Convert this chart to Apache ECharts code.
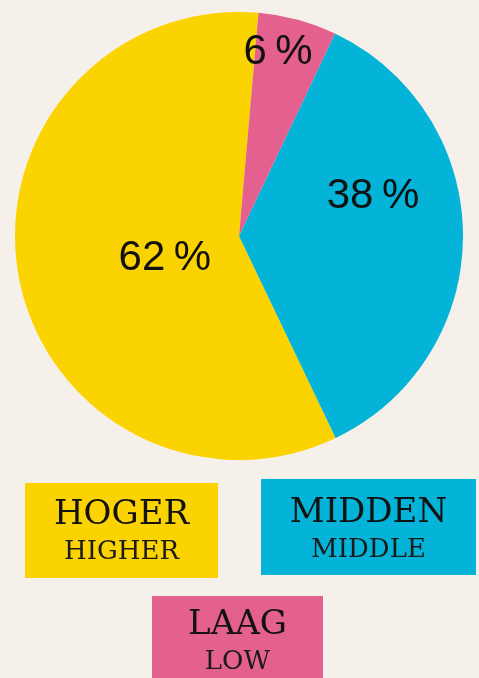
<!DOCTYPE html>
<html>
<head>
<meta charset="utf-8">
<title>Hoger / Midden / Laag</title>
<script src="https://cdn.jsdelivr.net/npm/echarts@6/dist/echarts.min.js"></script>
<style>
    html, body { margin: 0; padding: 0; background: #f5f1ea; }
    #chart { width: 479px; height: 678px; }
</style>
</head>
<body>
<div id="chart"></div>
<script>
// data
const categories = ['HOGER', 'MIDDEN', 'LAAG']
const translations = ['HIGHER', 'MIDDLE', 'LOW']
const shares = [62, 38, 6]

const colors = ['#fad300', '#03b3d8', '#e3608f']

// label nudges, per slice (px)
const labelShift = [[39, 2], [19, -39], [9, -73]]

// legend boxes: left, top, width, padding top / bottom
const boxes = [
    { left: 25, top: 483, width: 193, pad: [14, 0, 7, 0] },
    { left: 261, top: 479, width: 215, pad: [16, 0, 6, 0] },
    { left: 152, top: 596, width: 171, pad: [11, 0, 12, 0] }
]

const chart = echarts.init(document.getElementById('chart'))

const legends = categories.map((name, i) => ({
    left: boxes[i].left - 5,
    top: boxes[i].top,
    padding: 0,
    itemWidth: 0,
    itemHeight: 0,
    selectedMode: false,
    data: [{
        name: name,
        textStyle: {
            backgroundColor: colors[i],
            width: boxes[i].width,
            padding: boxes[i].pad
        }
    }],
    formatter: n => '{a|' + n + '}\n{b|' + translations[categories.indexOf(n)] + '}',
    textStyle: {
        rich: {
            a: {
                fontFamily: 'DejaVu Serif',
                fontSize: 34,
                color: '#111',
                lineHeight: 37,
                align: 'center'
            },
            b: {
                fontFamily: 'DejaVu Serif',
                fontSize: 26,
                color: '#1a1a1a',
                lineHeight: 37,
                align: 'center'
            }
        }
    }
}))

const option = {
    backgroundColor: '#f5f1ea',
    animation: false,
    color: colors,
    legend: legends,
    series: [
        {
            type: 'pie',
            center: [239, 236],
            radius: 224,
            startAngle: 85,
            clockwise: false,
            avoidLabelOverlap: false,
            emphasis: { disabled: true },
            label: {
                show: true,
                position: 'inside',
                formatter: p => p.value + '\u2009%',
                fontFamily: 'Liberation Sans',
                fontSize: 42,
                color: '#111'
            },
            labelLine: { show: false },
            labelLayout: p => ({ dx: labelShift[p.dataIndex][0], dy: labelShift[p.dataIndex][1] }),
            data: categories.map((name, i) => ({ name: name, value: shares[i] }))
        }
    ]
}

chart.setOption(option)
</script>
</body>
</html>
